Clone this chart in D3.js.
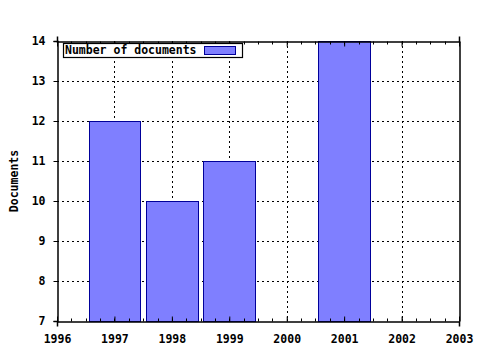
<!DOCTYPE html>
<html>
<head>
<meta charset="utf-8">
<script src="https://cdn.jsdelivr.net/npm/d3@7"></script>
<style>
  body { margin: 0; background: #fff; }
  text { font-family: "DejaVu Sans Mono", monospace; font-weight: bold; font-size: 11.5px; fill: #000; }
</style>
</head>
<body>
<div id="chart"></div>
<script>
// data
var years = [1997, 1998, 1999, 2001];
var docs = [12, 10, 11, 14];
var xTicks = [1996, 1997, 1998, 1999, 2000, 2001, 2002, 2003];
var yTicks = [7, 8, 9, 10, 11, 12, 13, 14];
var seriesName = "Number of documents";
var yTitle = "Documents";

var width = 480, height = 350;
var pLeft = 57, pRight = 459, pTop = 41, pBottom = 321;

var svg = d3.select("#chart").append("svg")
	.attr("width", width)
	.attr("height", height);

var x = d3.scaleLinear().domain([1996, 2003]).range([pLeft, pRight]);
var y = d3.scaleLinear().domain([7, 14]).range([pBottom, pTop]);

// grid lines (dotted)
svg.selectAll(".vgrid")
	.data(xTicks.slice(1, -1))
	.enter().append("line")
	.attr("x1", function(d) { return Math.round(x(d)) + 0.5; })
	.attr("x2", function(d) { return Math.round(x(d)) + 0.5; })
	.attr("y1", pTop).attr("y2", pBottom)
	.style("stroke", "#000")
	.style("stroke-dasharray", "2,3");

svg.selectAll(".hgrid")
	.data(yTicks.slice(1, -1))
	.enter().append("line")
	.attr("x1", pLeft).attr("x2", pRight)
	.attr("y1", function(d) { return Math.round(y(d)) + 0.5; })
	.attr("y2", function(d) { return Math.round(y(d)) + 0.5; })
	.style("stroke", "#000")
	.style("stroke-dasharray", "2,3");

// bars
var bw = 0.9;
svg.selectAll(".bar")
	.data(years)
	.enter().append("rect")
	.attr("class", "bar")
	.attr("x", function(d) { return Math.round(x(d - bw / 2)) + 0.5; })
	.attr("width", function(d) { return Math.round(x(d + bw / 2)) - Math.round(x(d - bw / 2)); })
	.attr("y", function(d, i) { return Math.round(y(docs[i])) + 0.5; })
	.attr("height", function(d, i) { return Math.round(y(7)) - Math.round(y(docs[i])); })
	.style("fill", "#7f7fff")
	.style("stroke", "#00009a");

// axes: bottom with labels, top mirrored, left with labels, right plain
var minor = d3.range(1996, 2003.01, 0.25);
var xAxis = d3.axisBottom(x).tickValues(xTicks).tickFormat(d3.format("d")).tickSize(5).tickPadding(8);
var gx = svg.append("g").attr("transform", "translate(0," + (pBottom + 0.5) + ")").call(xAxis);
gx.selectAll(".tick line").attr("y1", -5).attr("y2", 0);
gx.selectAll(".minor").data(minor).enter().append("line")
	.attr("x1", function(d) { return Math.round(x(d)) + 0.5; })
	.attr("x2", function(d) { return Math.round(x(d)) + 0.5; })
	.attr("y1", -3).attr("y2", 0).style("stroke", "#000");

var gt = svg.append("g").attr("transform", "translate(0," + (pTop + 0.5) + ")")
	.call(d3.axisTop(x).tickValues(xTicks).tickFormat("").tickSize(5));
gt.selectAll(".tick line").attr("y1", 0).attr("y2", 5);
gt.selectAll(".minor").data(minor).enter().append("line")
	.attr("x1", function(d) { return Math.round(x(d)) + 0.5; })
	.attr("x2", function(d) { return Math.round(x(d)) + 0.5; })
	.attr("y1", 0).attr("y2", 3).style("stroke", "#000");

var gy = svg.append("g").attr("transform", "translate(" + (pLeft + 0.5) + ",0)")
	.call(d3.axisLeft(y).tickValues(yTicks).tickFormat(d3.format("d")).tickSize(4).tickPadding(8));
svg.append("g").attr("transform", "translate(" + (pRight + 0.5) + ",0)")
	.call(d3.axisRight(y).tickValues(yTicks).tickFormat("").tickSize(0));

svg.selectAll(".domain").style("stroke", "#000").style("stroke-width", 1.5);
svg.selectAll(".tick text").style("font-family", "'DejaVu Sans Mono', monospace").style("font-weight", "bold").style("font-size", "11.5px");

// y title
svg.append("text")
	.attr("transform", "translate(18," + ((pTop + pBottom) / 2) + ") rotate(-90)")
	.attr("text-anchor", "middle")
	.text(yTitle);

// legend
var lg = svg.append("g");
lg.append("rect")
	.attr("x", 63.5).attr("y", 43.5).attr("width", 179).attr("height", 14)
	.style("fill", "#fff").style("stroke", "#000").style("stroke-width", 1.2);
lg.append("text").attr("x", 65).attr("y", 54).text(seriesName);
lg.append("rect")
	.attr("x", 204.5).attr("y", 46.5).attr("width", 31).attr("height", 8)
	.style("fill", "#7f7fff").style("stroke", "#00009a");
</script>
</body>
</html>
